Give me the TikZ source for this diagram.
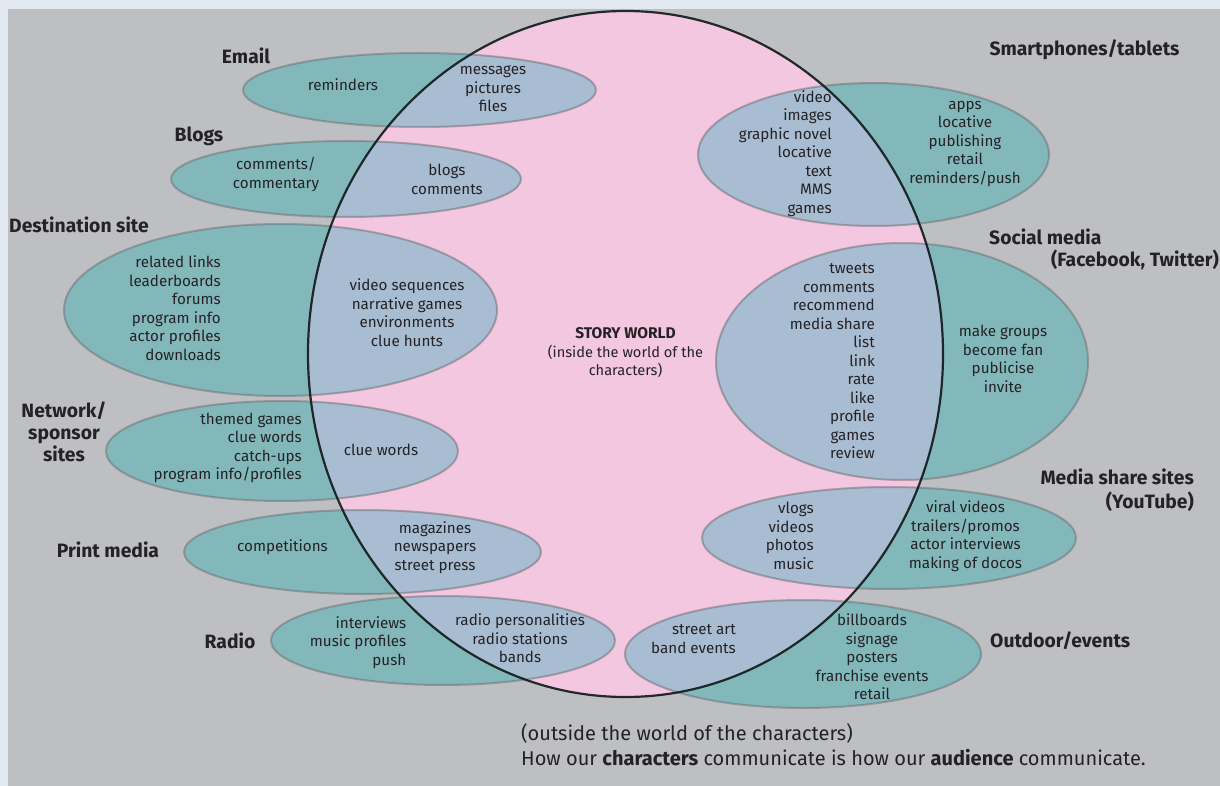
\documentclass[tikz,border=0pt]{standalone}
\usepackage{fontspec}
\setmainfont{Fira Sans}
\definecolor{pagec}{HTML}{E1E8EF}
\definecolor{bgc}{HTML}{BEBFC2}
\definecolor{pinkc}{HTML}{F3C7DF}
\definecolor{tealc}{HTML}{83B8BB}
\definecolor{bluec}{HTML}{A8BDD1}
\definecolor{bordc}{HTML}{5E5A5E}
\definecolor{linec}{HTML}{101818}
\definecolor{txt}{HTML}{242226}
\tikzset{
  lbl/.style={font=\fontsize{19.3}{22}\selectfont\bfseries, text=txt, inner sep=0pt, align=center},
  itm/.style={font=\fontsize{15.2}{18.5}\selectfont, text=txt, inner sep=0pt},
  itmr/.style={itm, align=right, anchor=east},
  itmc/.style={itm, align=center},
  satfill/.style={fill=tealc},
  satblue/.style={fill=bluec},
  satline/.style={draw=bordc, draw opacity=0.4, line width=2pt},
  mainline/.style={draw=linec, draw opacity=0.9, line width=2.2pt}
}
\begin{document}
\begin{tikzpicture}[x=1pt,y=-1pt]
\useasboundingbox (0,0) rectangle (1220,786);
\fill[pagec] (0,0) rectangle (1220,786);
\fill[bgc] (8,9) rectangle (1220,786);
\fill[pinkc] (625.5,354) ellipse [x radius=317.5pt, y radius=343pt];
\def\sats{419.5/90/176.5/37, 346/179/175/38, 280.5/310/216.5/86, 282/451/176/50, 362.5/552/178.5/42, 443/640.5/172/44.5, 873.5/154.5/175.5/71.5, 902/361.5/186/118.5, 889/538/187/51, 803/654/178/54}
\foreach \cx/\cy/\rx/\ry in \sats {
  \fill[satfill] (\cx,\cy) ellipse [x radius=\rx*1pt, y radius=\ry*1pt];
}
\begin{scope}
  \clip (625.5,354) ellipse [x radius=317.5pt, y radius=343pt];
  \foreach \cx/\cy/\rx/\ry in \sats {
    \fill[satblue] (\cx,\cy) ellipse [x radius=\rx*1pt, y radius=\ry*1pt];
  }
\end{scope}
\foreach \cx/\cy/\rx/\ry in \sats {
  \draw[satline] (\cx,\cy) ellipse [x radius=\rx*1pt, y radius=\ry*1pt];
}
\draw[mainline] (625.5,354) ellipse [x radius=317.5pt, y radius=343pt];

% Email
\node[lbl] (email) at (246,56) {Email};
\node[itmc] (emailout) at (343,85) {reminders};
\node[itmc] (emailin) at (493,89) {messages\\pictures\\files};
% Blogs
\node[lbl] (blogs) at (199,136) {Blogs};
\node[itmc] (blogsout) at (276,174.5) {comments/\\commentary};
\node[itmc] (blogsin) at (447,179.5) {blogs\\comments};
% Destination site
\node[lbl, anchor=west] (dest) at (9,225) {Destination site};
\node[itmr] (destout) at (221,308) {related links\\leaderboards\\forums\\program info\\actor profiles\\downloads};
\node[itmc] (destin) at (407,312.5) {video sequences\\narrative games\\environments\\clue hunts};
% Network
\node[lbl] (net) at (64,432) {Network/\\sponsor\\sites};
\node[itmr] (netout) at (302,448) {themed games\\clue words\hspace*{4pt}\\catch-ups\\program info/profiles};
\node[itmc] (netin) at (381,450) {clue words};
% Print media
\node[lbl] (print) at (108,550) {Print media};
\node[itmc] (printout) at (282.5,547) {competitions};
\node[itmc] (printin) at (435,547.5) {magazines\\newspapers\\street press};
% Radio
\node[lbl] (radio) at (230,641) {Radio};
\node[itmr] (radioout) at (406.5,642.5) {interviews\\music profiles\\push};
\node[itmc] (radioin) at (520,638.5) {radio personalities\\radio stations\\bands};
% Smartphones
\node[lbl] (phones) at (1084.5,50) {Smartphones/tablets};
\node[itmr] (phonesin) at (832,153.5) {video\\images\\graphic novel\\locative\\text\\MMS\\games};
\node[itmc] (phonesout) at (965,144) {apps\\locative\\publishing\\retail\\reminders/push};
% Social media
\node[lbl, anchor=west] (social) at (989,237) {Social media};
\node[lbl, anchor=east] (socialb) at (1219,260) {(Facebook, Twitter)};
\node[itmr] (socialin) at (875,361.3) {tweets\\comments\\recommend\\media share\hspace*{4pt}\\list\\link\\rate\\like\\profile\\games\\review};
\node[itmc] (socialout) at (1003,359) {make groups\\become fan\\publicise\\invite};
% Media share
\node[lbl, anchor=east] (media) at (1194,477) {Media share sites};
\node[lbl, anchor=east] (mediab) at (1194,502) {(YouTube)};
\node[itmr] (mediain) at (814,536) {vlogs\\videos\\photos\\music};
\node[itmc] (mediaout) at (965.5,536) {viral videos\\trailers/promos\\actor interviews\\making of docos};
% Outdoor
\node[lbl, anchor=west] (outdoor) at (990,641) {Outdoor/events};
\node[itmr] (outdoorin) at (736,639) {street art\\band events};
\node[itmc] (outdoorout) at (872,657) {billboards\\signage\\posters\\franchise events\\retail};
% Story world
\node[itmc, font=\fontsize{14.6}{18.5}\selectfont] (story) at (625.5,353) {{\fontsize{15.5}{18.5}\selectfont\textbf{STORY WORLD}}\\(inside the world of the\\characters)};
% Bottom
\node[itm, font=\fontsize{20}{25}\selectfont, align=left, anchor=west] (bottom) at (521,744.5) {(outside the world of the characters)\\How our \textbf{characters} communicate is how our \textbf{audience} communicate.};
\end{tikzpicture}
\end{document}
